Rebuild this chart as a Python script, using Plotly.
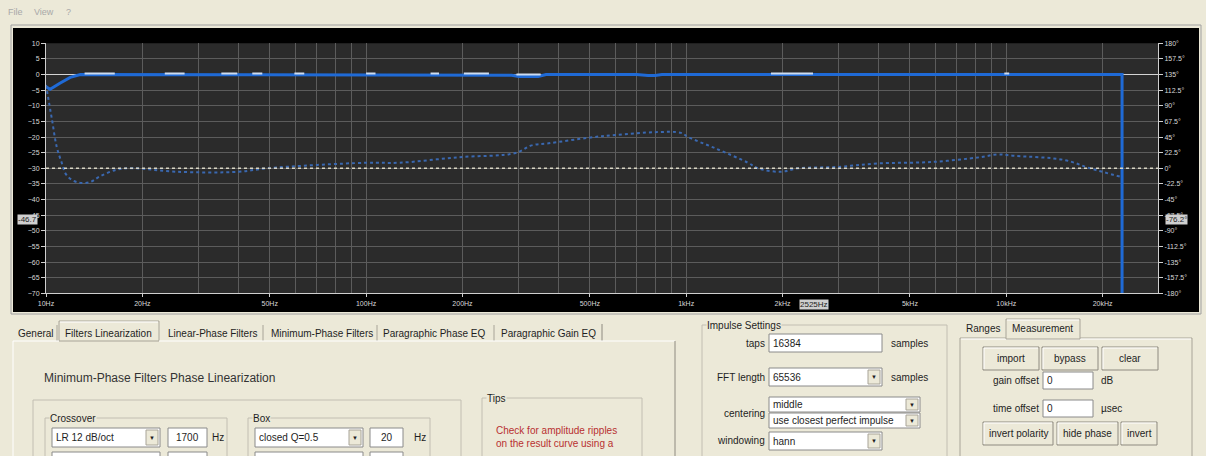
import plotly.graph_objects as go

W, H = 1206, 456

# frequency axis labels
FREQ_TICKS = [10, 20, 50, 100, 200, 500, 1000, 2000, 5000, 10000, 20000]
FREQ_LABELS = ["10Hz", "20Hz", "50Hz", "100Hz", "200Hz", "500Hz", "1kHz", "2kHz", "5kHz", "10kHz", "20kHz"]
GRID_FREQS = [m * d for d in (10, 100, 1000, 10000) for m in range(1, 10) if m * d <= 29000]

DB_TICKS = [10, 5, 0, -5, -10, -15, -20, -25, -30, -35, -40, -45, -50, -55, -60, -65, -70]
PHASE_TICKS = [180, 157.5, 135, 112.5, 90, 67.5, 45, 22.5, 0, -22.5, -45, -67.5, -90, -112.5, -135, -157.5, -180]
PHASE_LABELS = [f"{v:g}°" for v in PHASE_TICKS]

# result magnitude (dB)
MAG_FREQ = [10, 10.3, 11.05, 11.9, 12.8, 20, 50, 100, 250, 285, 300, 320, 345, 365, 700, 760, 800, 840, 2000, 10000, 23000, 23000]
MAG_DB = [-3.9, -4.7, -2.8, -0.9, 0, 0, 0, 0, 0, -0.2, -0.6, -0.7, -0.6, 0, 0, -0.3, -0.3, 0, 0, 0, 0, -90]

# measurement curve showing on top of the result
MEAS_FREQ = [13.2, 16.4, None, 23.5, 27.1, None, 35.3, 39.6, None, 44.1, 47.4, None, 59.7, 64.1, None,
             100, 107, None, 159, 169, None, 202, 242, None, 295, 351, None, 1840, 2490, None, 9860, 10210]
MEAS_DB = [0.3, 0.3, None, 0.3, 0.3, None, 0.3, 0.3, None, 0.3, 0.3, None, 0.3, 0.3, None,
           0.3, 0.3, None, 0.3, 0.3, None, 0.3, 0.3, None, 0, 0, None, 0.3, 0.3, None, 0.3, 0.3]

# result phase (degrees)
PHASE_FREQ = [10, 10.44, 10.8, 11.2, 11.6, 12.5, 13.7, 14.7, 16.6, 18.7, 25.6, 40, 49, 100, 127, 195, 293, 329,
              372, 495, 601, 800, 964, 1014, 1230, 1560, 1676, 1976, 2235, 2973, 3960, 5800, 8300, 9370, 10590,
              15170, 18280, 22650]
PHASE_DEG = [120, 70, 31, 8, -10, -20, -20, -12, -2, 0, -5, -5, 0, 8, 8, 16, 22, 33,
             36, 44, 48, 52, 51, 45, 29, 8, 0, -5, 0, 2, 7, 9, 16,
             20, 18, 12, 0, -12]

BG = "#ece9d8"
UI_FONT = "Liberation Sans"


def px(x):
    return x / W


def py(y):
    return 1 - y / H


fig = go.Figure()
fig.add_trace(go.Scatter(x=MAG_FREQ, y=MAG_DB, mode="lines", line=dict(color="#1f6ad6", width=3)))
fig.add_trace(go.Scatter(x=MEAS_FREQ, y=MEAS_DB, mode="lines", line=dict(color="#cddcf0", width=2),
                         connectgaps=False, hoverinfo="skip"))
fig.add_trace(go.Scatter(x=PHASE_FREQ, y=PHASE_DEG, yaxis="y2", mode="lines",
                         line=dict(color="#3a68b0", width=2, dash="dot", shape="spline")))

tickfont = dict(family=UI_FONT, size=7, color="#d8d8d8")
fig.update_layout(
    width=W, height=H, autosize=False,
    margin=dict(l=0, r=0, t=0, b=0, pad=0),
    paper_bgcolor=BG, plot_bgcolor="#2b2b2b",
    showlegend=False,
    xaxis=dict(type="log", range=[1, 4.474], domain=[px(46), px(1158)], automargin=False,
               tickvals=FREQ_TICKS, ticktext=FREQ_LABELS, tickfont=tickfont,
               showgrid=True, gridcolor="#5c5c5c", gridwidth=1,
               minor=dict(tickvals=GRID_FREQS, showgrid=True, gridcolor="#5c5c5c", ticks=""),
               showline=True, linecolor="#cfcfcf", ticks="outside", ticklen=3, tickcolor="#cfcfcf",
               zeroline=False, fixedrange=True),
    yaxis=dict(range=[-70, 10], domain=[1 - 293.3 / H, 1 - 43.3 / H], automargin=False,
               tickvals=DB_TICKS, tickfont=tickfont,
               showgrid=True, gridcolor="#5c5c5c", gridwidth=1,
               zeroline=True, zerolinecolor="#d4d4d4", zerolinewidth=1,
               showline=True, linecolor="#cfcfcf", ticks="outside", ticklen=4, tickcolor="#cfcfcf"),
    yaxis2=dict(range=[-180, 180], overlaying="y", side="right", anchor="x", automargin=False,
                tickvals=PHASE_TICKS, ticktext=PHASE_LABELS, tickfont=tickfont,
                showgrid=False, zeroline=False,
                showline=True, linecolor="#cfcfcf", ticks="outside", ticklen=4, tickcolor="#cfcfcf"),
)

shapes = []


def rect(x0, y0, x1, y1, fill=None, line="#9a968a", width=1, layer="above"):
    shapes.append(dict(type="rect", xref="paper", yref="paper", x0=px(x0), x1=px(x1), y0=py(y1), y1=py(y0),
                       fillcolor=fill if fill else "rgba(0,0,0,0)",
                       line=dict(color=line, width=width) if line else dict(width=0), layer=layer))


def hline(x0, x1, y, color, width=1):
    shapes.append(dict(type="line", xref="paper", yref="paper", x0=px(x0), x1=px(x1), y0=py(y), y1=py(y),
                       line=dict(color=color, width=width)))


def vline(x, y0, y1, color, width=1):
    shapes.append(dict(type="line", xref="paper", yref="paper", x0=px(x), x1=px(x), y0=py(y0), y1=py(y1),
                       line=dict(color=color, width=width)))


def text(x, y, s, size=10, color="#1e1e1e", anchor="left", bg=None):
    fig.add_annotation(x=px(x), y=py(y), xref="paper", yref="paper", text=s, showarrow=False,
                       xanchor=anchor, yanchor="middle", font=dict(family=UI_FONT, size=size, color=color),
                       bgcolor=bg, borderpad=0)


def textbox(x0, y0, x1, y1, s="", align="left"):
    rect(x0, y0, x1, y1, fill="white", line="#8a8a8a")
    if s:
        if align == "center":
            text((x0 + x1) / 2, (y0 + y1) / 2, s, anchor="center")
        else:
            text(x0 + 3, (y0 + y1) / 2, s)


def dropdown(x0, y0, x1, y1, s):
    textbox(x0, y0, x1, y1, s)
    rect(x1 - 14, y0 + 2, x1 - 2, y1 - 2, fill=BG, line="#a8a498")
    text(x1 - 8, (y0 + y1) / 2, "▼", size=6, anchor="center")


def button(x0, y0, x1, y1, s):
    rect(x0, y0, x1, y1, fill=BG, line="#8e8a80")
    hline(x0 + 1, x1 - 1, y0 + 1, "#ffffff")
    vline(x0 + 1, y0 + 1, y1 - 1, "#ffffff")
    text((x0 + x1) / 2, (y0 + y1) / 2, s, anchor="center")


def group(x0, y0, x1, y1, label):
    rect(x0, y0, x1, y1, line="#c2beb2")
    if label:
        text(x0 + 4, y0, label, bg=BG)


# chart frame
rect(11, 25, 1201, 314, line="#a0a0a0", layer="below")
rect(13, 28, 1199, 312, fill="black", line=None, layer="below")
shapes.append(dict(type="rect", xref="x domain", yref="y domain", x0=0, x1=1, y0=0, y1=1,
                   fillcolor="#2b2b2b", line=dict(width=0), layer="below"))
# phase reference line
shapes.append(dict(type="line", xref="x domain", yref="y2", x0=0, x1=1, y0=0, y1=0,
                   line=dict(color="#d9d6c4", width=1.5, dash="dot"), layer="above"))

# menu
text(7, 12, "File", size=9, color="#a8a8a8")
text(33, 12, "View", size=9, color="#a8a8a8")
text(65, 12, "?", size=9, color="#a8a8a8")

# cursor read-outs
text(28, 219, "-46.7", size=8, color="#222222", anchor="center", bg="#cfcfcf")
text(1176, 219, "-76.2°", size=8, color="#222222", anchor="center", bg="#cfcfcf")
text(814, 304, "2525Hz", size=8, color="#222222", anchor="center", bg="#cfcfcf")

# main tab strip
TABS = [("General", 17), ("Filters Linearization", 64), ("Linear-Phase Filters", 167),
        ("Minimum-Phase Filters", 270), ("Paragraphic Phase EQ", 382), ("Paragraphic Gain EQ", 500)]
for name, x in TABS:
    text(x, 333, name)
for x in (57, 263, 377, 494):
    vline(x, 325, 341, "#a8a498")
rect(59, 321, 159, 341, fill=BG, line="#a8a498")
hline(60, 158, 322, "#ffffff")
vline(602, 324, 341, "#8e8a80")
hline(13, 59, 341, "#ffffff")
hline(159, 675, 341, "#ffffff")
vline(13, 341, 456, "#ffffff")
vline(675, 341, 456, "#8e8a80")

text(43, 378, "Minimum-Phase Filters Phase Linearization", size=12, color="#333333")

group(33, 400, 461, 470, "")
group(45, 418, 227, 470, "Crossover")
group(248, 418, 430, 470, "Box")
dropdown(52, 428, 160, 447, "LR 12 dB/oct")
textbox(168, 428, 207, 447, "1700", align="center")
text(211, 437, "Hz")
dropdown(255, 428, 363, 447, "closed Q=0.5")
textbox(370, 428, 403, 447, "20", align="center")
text(413, 437, "Hz")
textbox(52, 452, 160, 470)
textbox(168, 452, 207, 470)
textbox(255, 452, 363, 470)
textbox(370, 452, 403, 470)

group(482, 398, 642, 470, "Tips")
text(495, 430, "Check for amplitude ripples", color="#b83030")
text(495, 443, "on the result curve using a", color="#b83030")

# impulse settings
group(702, 325, 947, 470, "Impulse Settings")
text(766, 343, "taps", anchor="right")
textbox(769, 334, 882, 352, "16384")
text(890, 343, "samples")
text(766, 377, "FFT length", anchor="right")
dropdown(769, 368, 882, 386, "65536")
text(890, 377, "samples")
text(766, 413, "centering", anchor="right")
dropdown(769, 397, 920, 412, "middle")
dropdown(769, 413, 920, 428, "use closest perfect impulse")
text(766, 440, "windowing", anchor="right")
dropdown(769, 432, 882, 450, "hann")

# measurement panel
rect(960, 338, 1192, 470, line="#a8a498")
hline(961, 1191, 339, "#ffffff")
text(965, 328, "Ranges")
rect(1006, 319, 1080, 339, fill=BG, line="#a8a498")
hline(1007, 1079, 320, "#ffffff")
text(1011, 328, "Measurement")
button(983, 347, 1039, 370, "import")
button(1042, 347, 1098, 370, "bypass")
button(1102, 347, 1158, 370, "clear")
text(1040, 380, "gain offset", anchor="right")
textbox(1043, 372, 1093, 389, "0")
text(1100, 380, "dB")
text(1040, 408, "time offset", anchor="right")
textbox(1043, 400, 1093, 417, "0")
text(1100, 408, "µsec")
button(983, 422, 1053, 445, "invert polarity")
button(1057, 422, 1118, 445, "hide phase")
button(1121, 422, 1157, 445, "invert")

fig.update_layout(shapes=shapes)
fig.write_html("out.html", config={"displayModeBar": False},
               post_script="document.body.style.margin='0';document.body.style.overflow='hidden';")
